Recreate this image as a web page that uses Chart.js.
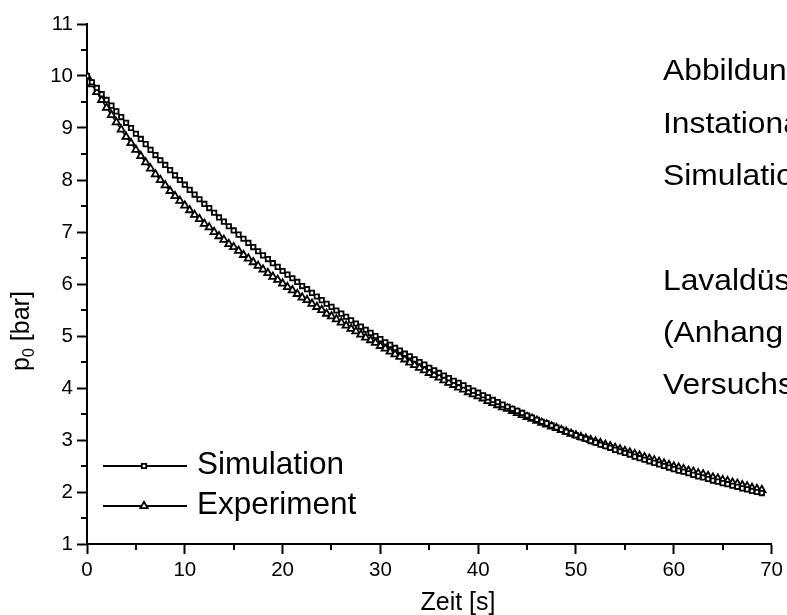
<!DOCTYPE html>
<html>
<head>
<meta charset="utf-8">
<script src="https://cdn.jsdelivr.net/npm/chart.js@4.4.1/dist/chart.umd.min.js"></script>
<style>
  html, body { margin: 0; padding: 0; background: #fff; overflow: hidden; }
  canvas { display: block; }
</style>
</head>
<body>
<canvas id="c" width="787" height="615"></canvas>
<script>
// Zeit [s]
const times = [
  0, 0.5, 1, 1.5, 2, 2.5, 3, 3.5, 4, 4.5, 5,
  5.5, 6, 6.5, 7, 7.5, 8, 8.5, 9, 9.5, 10,
  10.5, 11, 11.5, 12, 12.5, 13, 13.5, 14, 14.5, 15,
  15.5, 16, 16.5, 17, 17.5, 18, 18.5, 19, 19.5, 20,
  20.5, 21, 21.5, 22, 22.5, 23, 23.5, 24, 24.5, 25,
  25.5, 26, 26.5, 27, 27.5, 28, 28.5, 29, 29.5, 30,
  30.5, 31, 31.5, 32, 32.5, 33, 33.5, 34, 34.5, 35,
  35.5, 36, 36.5, 37, 37.5, 38, 38.5, 39, 39.5, 40,
  40.5, 41, 41.5, 42, 42.5, 43, 43.5, 44, 44.5, 45,
  45.5, 46, 46.5, 47, 47.5, 48, 48.5, 49, 49.5, 50,
  50.5, 51, 51.5, 52, 52.5, 53, 53.5, 54, 54.5, 55,
  55.5, 56, 56.5, 57, 57.5, 58, 58.5, 59, 59.5, 60,
  60.5, 61, 61.5, 62, 62.5, 63, 63.5, 64, 64.5, 65,
  65.5, 66, 66.5, 67, 67.5, 68, 68.5, 69
];

// p0 [bar], Simulation
const simulation = [
  10.00, 9.88, 9.77, 9.65, 9.54, 9.43, 9.32, 9.21, 9.10, 9.00, 8.89,
  8.79, 8.69, 8.58, 8.48, 8.38, 8.29, 8.19, 8.09, 8.00, 7.91,
  7.81, 7.72, 7.63, 7.54, 7.46, 7.37, 7.28, 7.20, 7.11, 7.03,
  6.95, 6.87, 6.79, 6.71, 6.63, 6.55, 6.48, 6.40, 6.33, 6.25,
  6.18, 6.11, 6.04, 5.96, 5.90, 5.83, 5.76, 5.69, 5.62, 5.56,
  5.49, 5.43, 5.37, 5.30, 5.24, 5.18, 5.12, 5.06, 5.00, 4.94,
  4.88, 4.83, 4.77, 4.72, 4.66, 4.61, 4.55, 4.50, 4.45, 4.39,
  4.34, 4.29, 4.24, 4.19, 4.14, 4.10, 4.05, 4.00, 3.95, 3.91,
  3.86, 3.82, 3.77, 3.73, 3.68, 3.64, 3.60, 3.56, 3.52, 3.47,
  3.43, 3.39, 3.35, 3.32, 3.28, 3.24, 3.20, 3.16, 3.13, 3.09,
  3.05, 3.02, 2.98, 2.95, 2.91, 2.88, 2.85, 2.81, 2.78, 2.75,
  2.72, 2.68, 2.65, 2.62, 2.59, 2.56, 2.53, 2.50, 2.47, 2.44,
  2.41, 2.39, 2.36, 2.33, 2.30, 2.28, 2.25, 2.22, 2.20, 2.17,
  2.15, 2.12, 2.10, 2.07, 2.05, 2.02, 2.00, 1.98
];

// p0 [bar], Experiment
const experiment = [
  10.00, 9.84, 9.69, 9.54, 9.39, 9.25, 9.11, 8.97, 8.83, 8.71, 8.58,
  8.46, 8.34, 8.22, 8.11, 8.00, 7.90, 7.79, 7.69, 7.60, 7.51,
  7.42, 7.33, 7.25, 7.16, 7.09, 7.00, 6.92, 6.85, 6.77, 6.71,
  6.64, 6.56, 6.49, 6.42, 6.35, 6.28, 6.21, 6.14, 6.08, 6.01,
  5.94, 5.88, 5.81, 5.74, 5.69, 5.62, 5.56, 5.50, 5.43, 5.38,
  5.32, 5.26, 5.20, 5.14, 5.09, 5.03, 4.97, 4.92, 4.87, 4.81,
  4.76, 4.70, 4.65, 4.60, 4.55, 4.49, 4.44, 4.39, 4.34, 4.29,
  4.25, 4.20, 4.15, 4.10, 4.06, 4.01, 3.97, 3.92, 3.88, 3.84,
  3.80, 3.75, 3.71, 3.67, 3.63, 3.60, 3.56, 3.52, 3.48, 3.44,
  3.41, 3.37, 3.33, 3.30, 3.26, 3.23, 3.19, 3.16, 3.12, 3.09,
  3.06, 3.03, 3.00, 2.97, 2.94, 2.91, 2.88, 2.85, 2.82, 2.79,
  2.76, 2.73, 2.70, 2.67, 2.64, 2.61, 2.58, 2.55, 2.52, 2.49,
  2.47, 2.44, 2.41, 2.39, 2.36, 2.34, 2.31, 2.28, 2.26, 2.23,
  2.21, 2.18, 2.16, 2.13, 2.11, 2.08, 2.06, 2.04
];

const seriesNames = ['Simulation', 'Experiment'];
const xMinorTicks = [5, 15, 25, 35, 45, 55, 65];
const yMinorTicks = [1.5, 2.5, 3.5, 4.5, 5.5, 6.5, 7.5, 8.5, 9.5, 10.5];
const sideText = ['Abbildung', 'Instationar', 'Simulation', 'Lavaldüse', '(Anhang', 'Versuchs'];

const FONT = "'Liberation Sans', Arial, Helvetica, sans-serif";

const toPoints = (vals) => vals.map((v, i) => ({ x: times[i], y: v }));

// Minor ticks, axis titles, the inset legend and the side notes
const annotations = {
  id: 'annotations',
  afterDraw(chart) {
    const ctx = chart.ctx;
    const xs = chart.scales.x, ys = chart.scales.y;
    const area = chart.chartArea;
    ctx.save();
    ctx.strokeStyle = '#000';
    ctx.lineWidth = 2;
    ctx.beginPath();
    xMinorTicks.forEach(v => {
      const px = Math.round(xs.getPixelForValue(v));
      ctx.moveTo(px, area.bottom);
      ctx.lineTo(px, area.bottom + 6);
    });
    yMinorTicks.forEach(v => {
      const py = Math.round(ys.getPixelForValue(v));
      ctx.moveTo(area.left, py);
      ctx.lineTo(area.left - 6, py);
    });
    ctx.stroke();

    ctx.fillStyle = '#000';
    // x title
    ctx.font = '25px ' + FONT;
    ctx.textAlign = 'center';
    ctx.textBaseline = 'alphabetic';
    ctx.fillText('Zeit [s]', 458, 610);

    // y title with subscript
    ctx.save();
    ctx.translate(29, 331);
    ctx.rotate(-Math.PI / 2);
    ctx.textAlign = 'left';
    const big = '25px ' + FONT, small = '16px ' + FONT;
    ctx.font = big;
    const wP = ctx.measureText('p').width;
    ctx.font = small;
    const w0 = ctx.measureText('0').width;
    ctx.font = big;
    const wRest = ctx.measureText(' [bar]').width;
    let x0 = -(wP + w0 + wRest) / 2;
    ctx.fillText('p', x0, 0);
    ctx.font = small;
    ctx.fillText('0', x0 + wP, 5);
    ctx.font = big;
    ctx.fillText(' [bar]', x0 + wP + w0, 0);
    ctx.restore();

    // legend
    const legendRows = [
      { y: 466, ds: chart.data.datasets[0] },
      { y: 506, ds: chart.data.datasets[1] }
    ];
    legendRows.forEach(row => {
      ctx.strokeStyle = '#000';
      ctx.lineWidth = 2;
      ctx.beginPath();
      ctx.moveTo(103, row.y);
      ctx.lineTo(187, row.y);
      ctx.stroke();
      ctx.fillStyle = '#fff';
      ctx.lineWidth = row.ds.pointBorderWidth;
      Chart.helpers.drawPoint(ctx, {
        pointStyle: row.ds.pointStyle,
        radius: row.ds.pointRadius,
        rotation: 0,
        borderWidth: row.ds.pointBorderWidth
      }, 144, row.y);
      ctx.fillStyle = '#000';
      ctx.font = '31.5px ' + FONT;
      ctx.textAlign = 'left';
      ctx.fillText(row.ds.label, 197, row.y + 8);
    });

    // side notes (run past the right edge of the canvas)
    ctx.font = '30px ' + FONT;
    ctx.textAlign = 'left';
    const baselines = [80, 133, 185, 290, 342, 394];
    sideText.forEach((t, i) => {
      ctx.save();
      ctx.translate(663, baselines[i]);
      ctx.scale(1.06, 1);
      ctx.fillText(t, 0, 0);
      ctx.restore();
    });
    ctx.restore();
  }
};

const tickFont = { family: FONT, size: 20.5 };

new Chart(document.getElementById('c'), {
  type: 'line',
  data: {
    datasets: [
      {
        label: seriesNames[0],
        data: toPoints(simulation),
        borderColor: '#000',
        borderWidth: 1.5,
        pointStyle: 'rect',
        pointRadius: 3.1,
        pointBorderWidth: 1.8,
        pointBackgroundColor: '#fff',
        pointBorderColor: '#000',
        tension: 0
      },
      {
        label: seriesNames[1],
        data: toPoints(experiment),
        borderColor: '#000',
        borderWidth: 1.5,
        pointStyle: 'triangle',
        pointRadius: 4.2,
        pointBorderWidth: 1.8,
        pointBackgroundColor: '#fff',
        pointBorderColor: '#000',
        tension: 0
      }
    ]
  },
  options: {
    responsive: false,
    animation: false,
    devicePixelRatio: 1,
    layout: { padding: { left: 0, right: 11, top: 24, bottom: 0 } },
    plugins: { legend: { display: false }, tooltip: { enabled: false } },
    scales: {
      x: {
        type: 'linear',
        min: 0, max: 70,
        ticks: { stepSize: 10, font: tickFont, color: '#000', padding: 4, maxRotation: 0, autoSkip: false },
        grid: { drawOnChartArea: false, tickLength: 10, tickWidth: 2, tickColor: '#000', color: '#000' },
        border: { color: '#000', width: 2 },
        afterFit(s) { s.height = 71; }
      },
      y: {
        type: 'linear',
        min: 1, max: 11,
        ticks: { stepSize: 1, font: tickFont, color: '#000', padding: 4, autoSkip: false },
        grid: { drawOnChartArea: false, tickLength: 10, tickWidth: 2, tickColor: '#000', color: '#000' },
        border: { color: '#000', width: 2 },
        afterFit(s) { s.width = 87; }
      }
    }
  },
  plugins: [annotations]
});
</script>
</body>
</html>
